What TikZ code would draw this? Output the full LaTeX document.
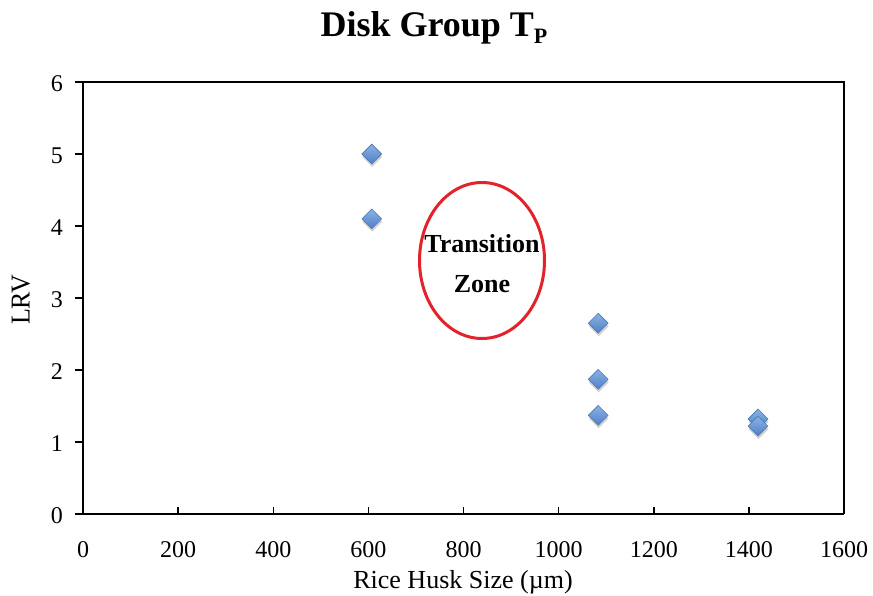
\documentclass[tikz,border=0pt]{standalone}
\usepackage{fontspec}
\setmainfont{Liberation Serif}
\usetikzlibrary{shapes.geometric,shadows}
\definecolor{mkfill}{HTML}{5B8FD0}
\definecolor{mktop}{HTML}{8AB2E6}
\definecolor{mkbot}{HTML}{4F80C4}
\definecolor{mkedge}{HTML}{4A78B5}
\definecolor{zonered}{HTML}{E3222B}
\tikzset{
  ticklab/.style={font=\fontsize{24}{28}\selectfont, inner sep=0pt},
  axtitle/.style={font=\fontsize{26}{30}\selectfont, inner sep=0pt},
  marker/.style={diamond, minimum width=20pt, minimum height=20pt, inner sep=0pt,
    draw=mkedge, line width=0.6pt, top color=mktop, bottom color=mkbot,
    drop shadow={shadow xshift=0.5pt, shadow yshift=-3pt, opacity=0.3, fill=black!60}},
  axisline/.style={line width=2pt, black},
  frameline/.style={line width=1.6pt, black},
  tickline/.style={line width=1.4pt, black},
}
\begin{document}
\begin{tikzpicture}[x=1pt, y=-1pt]
\useasboundingbox (0,0) rectangle (873,595);
% plot frame
\coordinate (o) at (83,514);
\coordinate (tl) at (83,82);
\coordinate (br) at (844,514);
\coordinate (tr) at (844,82);
\draw[frameline] (tl) -- (tr) -- (br);
\draw[axisline] (tl) -- (o);
\draw[axisline] (o) -- (br);
% y ticks and labels
\foreach \v in {0,...,6} {
  \coordinate (yt\v) at (83,{514-72*\v});
  \coordinate (ytl\v) at (75,{514-72*\v});
  \draw[tickline] (ytl\v) -- (yt\v);
  \node[ticklab, anchor=east] (ylab\v) at (63,{516-72*\v}) {\v};
}
% x ticks and labels
\foreach \v in {0,200,...,1600} {
  \coordinate (xt\v) at ({83+0.4757*\v},514);
  \coordinate (xtu\v) at ({83+0.4757*\v},507);
  \draw[tickline] (xt\v) -- (xtu\v);
  \node[ticklab, anchor=base] (xlab\v) at ({83+0.4757*\v},557) {\v};
}
% axis titles
\node[axtitle, anchor=base] (xtitle) at (463,588) {Rice Husk Size (µm)};
\node[axtitle, rotate=90, anchor=center, yscale=1.05] (ytitle) at (21,300) {LRV};
% title
\node[inner sep=0pt, anchor=base, font=\bfseries\fontsize{36}{40}\selectfont] (title) at (434,36)
  {Disk Group T\raisebox{-7pt}{\fontsize{22}{22}\selectfont P}};
% data
\begin{scope}[shift={(83,514)}, x=0.4757pt, y=72pt]
  \node[marker] (p1) at (607,5.0) {};
  \node[marker] (p2) at (607,4.1) {};
  \node[marker] (p3) at (1083,2.65) {};
  \node[marker] (p4) at (1083,1.87) {};
  \node[marker] (p5) at (1083,1.37) {};
  \node[marker] (p6) at (1419,1.32) {};
  \node[marker] (p7) at (1419,1.22) {};
\end{scope}
% transition zone
\node[ellipse, draw=zonered, line width=3pt, minimum width=125pt, minimum height=156pt, inner sep=0pt] (zone) at (482,260.5) {};
\node[align=center, inner sep=0pt, font=\bfseries\fontsize{26}{40}\selectfont] (zonelab) at (482,264) {Transition\\Zone};
\end{tikzpicture}
\end{document}
